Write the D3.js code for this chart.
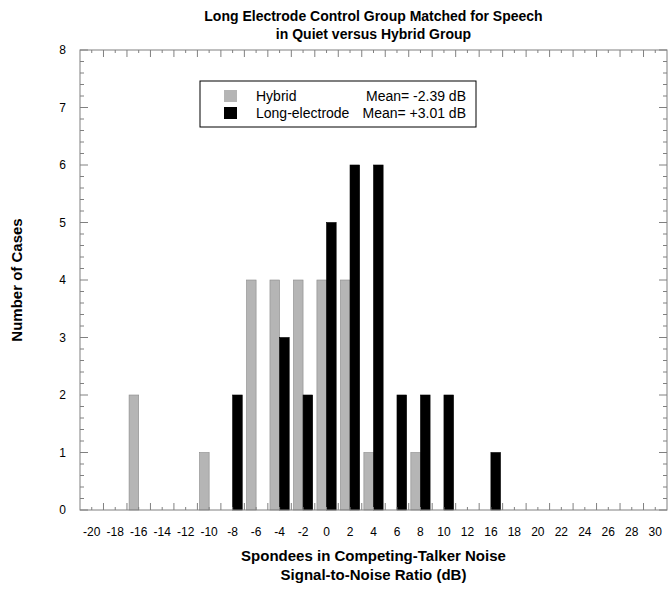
<!DOCTYPE html>
<html>
<head>
<meta charset="utf-8">
<script src="https://cdn.jsdelivr.net/npm/d3@7"></script>
<style>
  body { margin: 0; background: #fff; }
  text { font-family: "Liberation Sans", Arial, sans-serif; }
</style>
</head>
<body>
<svg id="chart" width="672" height="595"></svg>
<script>
// x categories as printed on the chart (note: no 14 label in the original)
var categories = ["-20", "-18", "-16", "-14", "-12", "-10", "-8", "-6", "-4", "-2", "0", "2", "4",
                  "6", "8", "10", "12", "16", "18", "20", "22", "24", "26", "28", "30"];
var hybrid = [0, 0, 2, 0, 0, 1, 0, 4, 4, 4, 4, 4, 1, 0, 1, 0, 0, 0, 0, 0, 0, 0, 0, 0, 0];
var longElectrode = [0, 0, 0, 0, 0, 0, 2, 0, 3, 2, 5, 6, 6, 2, 2, 2, 0, 1, 0, 0, 0, 0, 0, 0, 0];
var yTicks = [0, 1, 2, 3, 4, 5, 6, 7, 8];
var seriesNames = ["Hybrid", "Long-electrode"];
var seriesMeans = ["Mean= -2.39 dB", "Mean= +3.01 dB"];
var seriesColors = ["#b5b5b5", "#000000"];

var width = 672, height = 595;
var margin = {top: 50, right: 5, bottom: 85, left: 80};
var frameColor = "#808080";

var svg = d3.select("#chart");

var x = d3.scaleBand().domain(categories).range([margin.left, width - margin.right]).padding(0);
var y = d3.scaleLinear().domain([0, 8]).range([height - margin.bottom, margin.top]);

// inner scale: gray bar left of the category centre, black bar right of it
var barW = x.bandwidth() * 0.41;
var inner = d3.scaleBand().domain(seriesNames)
    .range([x.bandwidth() / 2 - barW, x.bandwidth() / 2 + barW]);

var rows = categories.map(function(c, i) {
    return {cat: c, values: [hybrid[i], longElectrode[i]]};
});

// bars
var g = svg.append("g");
rows.forEach(function(r) {
    r.values.forEach(function(v, j) {
        if (v <= 0) return;
        g.append("rect")
            .attr("x", x(r.cat) + inner(seriesNames[j]))
            .attr("y", y(v))
            .attr("width", inner.bandwidth())
            .attr("height", y(0) - y(v))
            .attr("fill", seriesColors[j])
            .attr("stroke", j == 0 ? "#8a8a8a" : "#000")
            .attr("stroke-width", 0.6);
    });
});

// frame
svg.append("rect")
    .attr("x", margin.left).attr("y", margin.top)
    .attr("width", width - margin.left - margin.right)
    .attr("height", height - margin.top - margin.bottom)
    .attr("fill", "none").attr("stroke", frameColor).attr("stroke-width", 1);

var ticks = svg.append("g").attr("stroke", frameColor).attr("stroke-width", 1);

// x ticks: short at centres, longer at band boundaries, top and bottom
var boundaries = categories.slice(1).map(function(c) { return x(c); });
categories.forEach(function(c) {
    var cx = x(c) + x.bandwidth() / 2;
    ticks.append("line").attr("x1", cx).attr("x2", cx).attr("y1", y(0)).attr("y2", y(0) - 3);
    ticks.append("line").attr("x1", cx).attr("x2", cx).attr("y1", y(8)).attr("y2", y(8) + 3);
});
boundaries.forEach(function(bx) {
    ticks.append("line").attr("x1", bx).attr("x2", bx).attr("y1", y(0)).attr("y2", y(0) - 7);
    ticks.append("line").attr("x1", bx).attr("x2", bx).attr("y1", y(8)).attr("y2", y(8) + 7);
});

// y ticks: major at integers, minor every 0.2, left and right
var minor = d3.range(0, 8.0001, 0.2);
minor.forEach(function(v) {
    var isMajor = Math.abs(v - Math.round(v)) < 1e-6;
    var len = isMajor ? 8 : 4;
    ticks.append("line").attr("x1", margin.left).attr("x2", margin.left + len).attr("y1", y(v)).attr("y2", y(v));
    ticks.append("line").attr("x1", width - margin.right).attr("x2", width - margin.right - len).attr("y1", y(v)).attr("y2", y(v));
});

// tick labels
svg.append("g").selectAll("text").data(categories).join("text")
    .attr("x", function(d) { return x(d) + x.bandwidth() / 2; })
    .attr("y", y(0) + 26)
    .attr("text-anchor", "middle")
    .attr("font-size", 12)
    .text(function(d) { return d; });

svg.append("g").selectAll("text").data(yTicks).join("text")
    .attr("x", margin.left - 14)
    .attr("y", function(d) { return y(d) + 4; })
    .attr("text-anchor", "end")
    .attr("font-size", 12)
    .text(function(d) { return d; });

// titles
var cx = (margin.left + width - margin.right) / 2;
var title = svg.append("text").attr("text-anchor", "middle").attr("font-size", 14).attr("font-weight", "bold");
title.append("tspan").attr("x", cx).attr("y", 21).text("Long Electrode Control Group Matched for Speech");
title.append("tspan").attr("x", cx).attr("y", 39).text("in Quiet versus Hybrid Group");

var xt = svg.append("text").attr("text-anchor", "middle").attr("font-size", 15).attr("font-weight", "bold");
xt.append("tspan").attr("x", cx).attr("y", 561).text("Spondees in Competing-Talker Noise");
xt.append("tspan").attr("x", cx).attr("y", 580).text("Signal-to-Noise Ratio (dB)");

svg.append("text")
    .attr("transform", "translate(22," + ((margin.top + height - margin.bottom) / 2) + ") rotate(-90)")
    .attr("text-anchor", "middle").attr("font-size", 15).attr("font-weight", "bold")
    .text("Number of Cases");

// legend
var lg = svg.append("g");
lg.append("rect").attr("x", 200).attr("y", 81).attr("width", 276).attr("height", 46)
    .attr("fill", "#fff").attr("stroke", "#000").attr("stroke-width", 1);
seriesNames.forEach(function(s, i) {
    var ly = 96 + i * 17;
    lg.append("rect").attr("x", 224).attr("y", ly - 6).attr("width", 13).attr("height", 12)
        .attr("fill", seriesColors[i]);
    lg.append("text").attr("x", 256).attr("y", ly + 5).attr("font-size", 14).text(s);
    lg.append("text").attr("x", 466).attr("y", ly + 5).attr("font-size", 14)
        .attr("text-anchor", "end").text(seriesMeans[i]);
});
</script>
</body>
</html>
